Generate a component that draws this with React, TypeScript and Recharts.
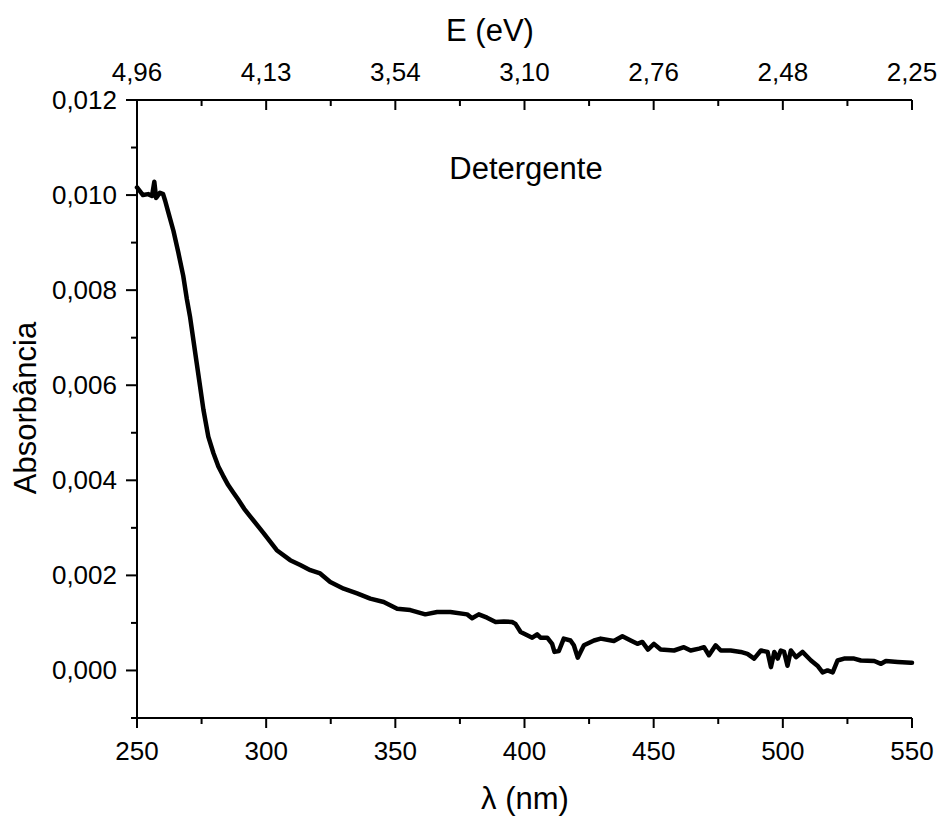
import { LineChart, Line, XAxis, YAxis } from "recharts";

const wavelength = [
  250, 252.3, 254.3, 255.8, 256.7, 257.4, 258.9, 260.1, 260.9, 262.1, 264.1,
  266.0, 267.9, 269.3, 270.5, 271.8, 273.1, 274.4, 275.7, 277.6, 279.6, 281.5,
  283.3, 285.3, 287.2, 289.1, 291.5, 293.8, 299.0, 304.1, 309.3, 313.2, 317.1,
  320.9, 324.8, 330.0, 335.2, 340.3, 345.5, 350.7, 355.8, 361.6, 366.2, 371.3,
  377.8, 379.7, 382.3, 385.5, 388.8, 392.0, 395.2, 396.5, 398.5, 403.0, 404.9,
  406.2, 408.8, 410.7, 411.6, 413.3, 415.2, 417.8, 419.1, 420.6, 421.7, 423.0,
  426.9, 429.5, 434.6, 437.9, 441.1, 443.7, 445.6, 447.8, 450.1, 452.7, 457.9,
  461.7, 464.3, 467.6, 469.5, 471.4, 474.0, 476.0, 479.8, 483.7, 486.3, 488.9,
  491.5, 494.1, 495.4, 496.7, 498.0, 499.2, 500.5, 501.8, 503.1, 505.1, 507.6,
  510.9, 513.4, 515.4, 517.3, 519.3, 521.2, 523.7, 527.6, 530.2, 535.4, 538.0,
  539.9, 544.5, 549.6, 550,
];

const absorbance = [
  0.01016, 0.0100, 0.01002, 0.00998, 0.01028, 0.00994, 0.01005, 0.01002,
  0.00988, 0.00964, 0.00925, 0.00879, 0.0083, 0.00781, 0.00745, 0.00696,
  0.00647, 0.00598, 0.00549, 0.00492, 0.00457, 0.00429, 0.0041, 0.0039,
  0.00375, 0.0036, 0.0034, 0.00324, 0.00289, 0.00253, 0.00232, 0.00222,
  0.00211, 0.00204, 0.00186, 0.00172, 0.00162, 0.00151, 0.00144, 0.0013,
  0.00127, 0.00118, 0.00123, 0.00123, 0.00118, 0.0011, 0.00118, 0.00111,
  0.00102, 0.00103, 0.00102, 0.00098, 0.00081, 0.00069, 0.00076, 0.00069,
  0.00069, 0.00056, 0.00039, 0.00041, 0.00067, 0.00063, 0.00053, 0.00027,
  0.00039, 0.00053, 0.00063, 0.00067, 0.00062, 0.00072, 0.00063, 0.00056,
  0.0006, 0.00044, 0.00056, 0.00044, 0.00042, 0.00049, 0.00042, 0.00046,
  0.00049, 0.00032, 0.00053, 0.00042, 0.00042, 0.00039, 0.00035, 0.00025,
  0.00042, 0.00039, 0.00007, 0.00039, 0.00025, 0.00042, 0.00039, 0.0001,
  0.00042, 0.00028, 0.00039, 0.00021, 0.0001, -0.00004, 0.0, -0.00004,
  0.00021, 0.00025, 0.00025, 0.00021, 0.0002, 0.00014, 0.0002, 0.00018,
  0.00016, 0.00016,
];

const xTicks = [250, 275, 300, 325, 350, 375, 400, 425, 450, 475, 500, 525, 550];
const energyLabels: Record<number, string> = {
  250: "4,96",
  300: "4,13",
  350: "3,54",
  400: "3,10",
  450: "2,76",
  500: "2,48",
  550: "2,25",
};
const yTicks = [
  -0.001, 0, 0.001, 0.002, 0.003, 0.004, 0.005, 0.006, 0.007, 0.008, 0.009,
  0.01, 0.011, 0.012,
];

const data = wavelength.map((wl, i) => ({ wl, abs: absorbance[i] }));

const FONT = "'Liberation Sans', Arial, sans-serif";
const TICK_FS = 26;
const TITLE_FS = 31;

const isMajorX = (v: number) => v % 50 === 0;
const isMajorY = (v: number) => Math.round(v * 1000) % 2 === 0;

const BottomTick = (props: any) => {
  const { x, y, payload } = props;
  const major = isMajorX(payload.value);
  return (
    <g>
      <line x1={x} x2={x} y1={y} y2={y + (major ? 10 : 6)} stroke="#000" strokeWidth={2} />
      {major && (
        <text x={x} y={y + 42} textAnchor="middle" fontSize={TICK_FS} fontFamily={FONT} fill="#000">
          {payload.value}
        </text>
      )}
    </g>
  );
};

const TopTick = (props: any) => {
  const { x, y, payload } = props;
  const major = isMajorX(payload.value);
  return (
    <g>
      <line x1={x} x2={x} y1={y} y2={y + (major ? 10 : 6)} stroke="#000" strokeWidth={2} />
      {major && (
        <text x={x} y={y - 19} textAnchor="middle" fontSize={TICK_FS} fontFamily={FONT} fill="#000">
          {energyLabels[payload.value]}
        </text>
      )}
    </g>
  );
};

const LeftTick = (props: any) => {
  const { x, y, payload } = props;
  const major = isMajorY(payload.value);
  return (
    <g>
      <line x1={x - (major ? 11 : 6)} x2={x} y1={y} y2={y} stroke="#000" strokeWidth={2} />
      {major && (
        <text x={x - 20} y={y + 9} textAnchor="end" fontSize={TICK_FS} fontFamily={FONT} fill="#000">
          {payload.value.toFixed(3).replace(".", ",")}
        </text>
      )}
    </g>
  );
};

export default function App() {
  return (
    <div style={{ position: "absolute", left: 0, top: 0, width: 940, height: 819, background: "#fff" }}>
      <LineChart
        width={940}
        height={819}
        data={data}
        margin={{ top: 0, right: 28, bottom: 0, left: 0 }}
      >
        <XAxis
          xAxisId="bottom"
          dataKey="wl"
          type="number"
          domain={[250, 550]}
          ticks={xTicks}
          interval={0}
          height={101}
          tickSize={0}
          tickMargin={0}
          tickLine={false}
          axisLine={{ stroke: "#000", strokeWidth: 2 }}
          tick={<BottomTick />}
        />
        <XAxis
          xAxisId="top"
          orientation="top"
          dataKey="wl"
          type="number"
          domain={[250, 550]}
          ticks={xTicks}
          interval={0}
          height={100}
          tickSize={0}
          tickMargin={0}
          tickLine={false}
          axisLine={{ stroke: "#000", strokeWidth: 2 }}
          tick={<TopTick />}
        />
        <YAxis
          yAxisId="left"
          type="number"
          domain={[-0.001, 0.012]}
          ticks={yTicks}
          interval={0}
          width={137}
          tickSize={0}
          tickMargin={0}
          tickLine={false}
          axisLine={{ stroke: "#000", strokeWidth: 2 }}
          tick={<LeftTick />}
        />
        <YAxis
          yAxisId="right"
          orientation="right"
          type="number"
          domain={[-0.001, 0.012]}
          width={0}
          tick={false}
          tickLine={false}
          axisLine={{ stroke: "#000", strokeWidth: 2 }}
        />
        <Line
          xAxisId="bottom"
          yAxisId="left"
          type="linear"
          dataKey="abs"
          stroke="#000"
          strokeWidth={4.5}
          strokeLinejoin="round"
          strokeLinecap="round"
          dot={false}
          isAnimationActive={false}
        />
        <Line
          xAxisId="top"
          yAxisId="right"
          type="linear"
          dataKey="abs"
          stroke="none"
          dot={false}
          isAnimationActive={false}
        />
      </LineChart>
      <svg
        width={940}
        height={819}
        style={{ position: "absolute", left: 0, top: 0, pointerEvents: "none" }}
      >
        <text x={490} y={41} textAnchor="middle" fontSize={TITLE_FS} fontFamily={FONT} fill="#000">
          E (eV)
        </text>
        <text x={525} y={809} textAnchor="middle" fontSize={TITLE_FS} fontFamily={FONT} fill="#000">
          λ (nm)
        </text>
        <text
          x={0}
          y={0}
          transform="translate(36, 408) rotate(-90)"
          textAnchor="middle"
          fontSize={TITLE_FS}
          fontFamily={FONT}
          fill="#000"
        >
          Absorbância
        </text>
        <text x={526} y={179} textAnchor="middle" fontSize={TITLE_FS} fontFamily={FONT} fill="#000">
          Detergente
        </text>
      </svg>
    </div>
  );
}
